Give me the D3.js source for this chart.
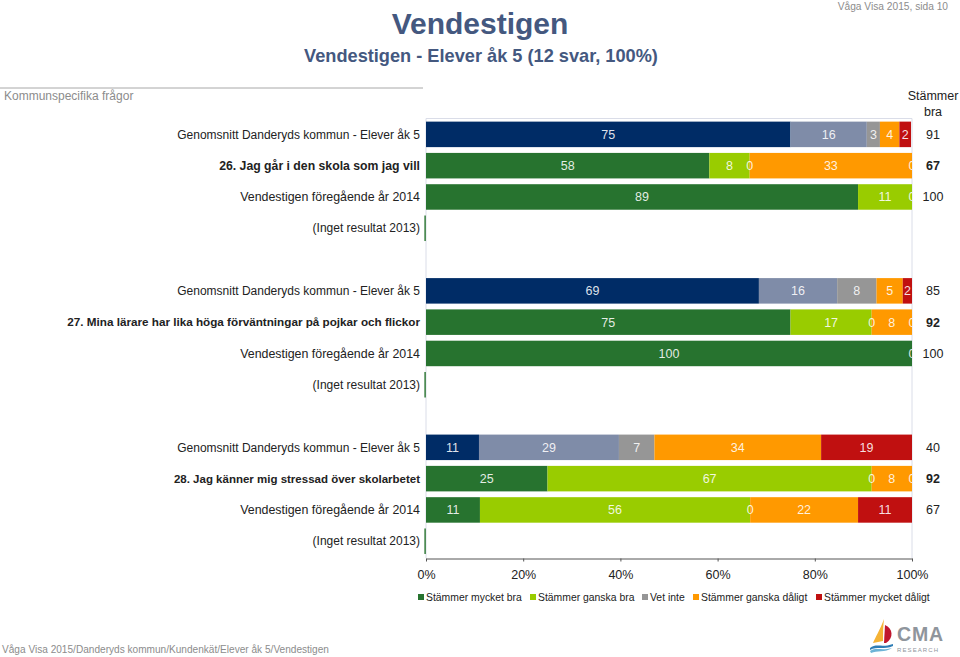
<!DOCTYPE html>
<html>
<head>
<meta charset="utf-8">
<script src="https://cdn.jsdelivr.net/npm/d3@7"></script>
<style>
  html, body { margin: 0; padding: 0; background: #fff; }
  text { font-family: "Liberation Sans", Arial, sans-serif; }
</style>
</head>
<body>
<div class="chart"></div>
<script>
var svgWidth = 960;
var svgHeight = 657;

// one row per line in the chart, blank rows are the gaps between the questions
var categories = [
  "Genomsnitt Danderyds kommun - Elever åk 5",
  "26. Jag går i den skola som jag vill",
  "Vendestigen föregående år 2014",
  "(Inget resultat 2013)",
  "",
  "Genomsnitt Danderyds kommun - Elever åk 5",
  "27. Mina lärare har lika höga förväntningar på pojkar och flickor",
  "Vendestigen föregående år 2014",
  "(Inget resultat 2013)",
  "",
  "Genomsnitt Danderyds kommun - Elever åk 5",
  "28. Jag känner mig stressad över skolarbetet",
  "Vendestigen föregående år 2014",
  "(Inget resultat 2013)"
];
var boldRows = [1, 6, 11];
var averageRows = [0, 5, 10];
var noResultRows = [3, 8, 13];
// the original labels are set a bit unevenly
var labelSizes = [12, 12.25, 12.4, 12, null, 12, 11.7, 12.4, 12, null, 12, 11.5, 12.4, 12];

var seriesNames = ["Stämmer mycket bra", "Stämmer ganska bra", "Vet inte", "Stämmer ganska dåligt", "Stämmer mycket dåligt"];
var seriesColors = ["#27732f", "#99cc00", "#969696", "#ff9900", "#c01010"];
var averageColors = ["#002c66", "#7f8ca8", "#969696", "#ff9900", "#c01010"];

// null = no segment and no label in that row
var veryGood = [75, 58.3, 88.9, null, null, 68.5, 75, 100, null, null, 10.9, 25, 11.1, null];
var fairlyGood = [15.7, 8.3, 11.1, null, null, 16.1, 16.7, 0, null, null, 28.8, 66.7, 55.6, null];
var dontKnow = [2.7, 0, 0, null, null, 8.1, 0, null, null, null, 7.3, 0, 0, null];
var fairlyBad = [4, 33.4, null, null, null, 5.4, 8.3, null, null, null, 34.3, 8.3, 22.2, null];
var veryBad = [2.4, 0, null, null, null, 1.9, 0, null, null, null, 18.7, 0, 11.1, null];
var allSeries = [veryGood, fairlyGood, dontKnow, fairlyBad, veryBad];

var agreeTotal = [91, 67, 100, null, null, 85, 92, 100, null, null, 40, 92, 67, null];

var xTicks = [0, 20, 40, 60, 80, 100];

var titleColor = "#44587f";
var greyText = "#8c8c8c";

var svg = d3.select(".chart").append("svg")
  .attr("width", svgWidth)
  .attr("height", svgHeight)
  .style("display", "block");

var xScale = d3.scaleLinear().domain([0, 100]).range([426, 912]);
var yScale = d3.scaleBand().domain(d3.range(categories.length)).range([118.8, 556.8]).paddingInner(0.185).paddingOuter(0.09);

// headers
svg.append("text").attr("x", 480).attr("y", 34).attr("text-anchor", "middle")
  .attr("font-size", 30).attr("font-weight", "bold").attr("fill", titleColor).text("Vendestigen");
svg.append("text").attr("x", 481).attr("y", 62).attr("text-anchor", "middle")
  .attr("font-size", 18.2).attr("font-weight", "bold").attr("fill", titleColor).text("Vendestigen - Elever åk 5 (12 svar, 100%)");
svg.append("text").attr("x", 948).attr("y", 10).attr("text-anchor", "end")
  .attr("font-size", 10.2).attr("fill", greyText).text("Våga Visa 2015, sida 10");

svg.append("line").attr("x1", 0).attr("x2", 423).attr("y1", 88).attr("y2", 88)
  .attr("stroke", "#a8a8a8").attr("stroke-width", 1);
svg.append("text").attr("x", 4).attr("y", 100).attr("font-size", 12).attr("fill", greyText).text("Kommunspecifika frågor");

svg.append("text").attr("x", 933).attr("y", 100).attr("text-anchor", "middle").attr("font-size", 12.5).attr("fill", "#222").text("Stämmer");
svg.append("text").attr("x", 933).attr("y", 116).attr("text-anchor", "middle").attr("font-size", 12.5).attr("fill", "#222").text("bra");

// plot frame, only the top and sides are pale
var frame = svg.append("g").attr("fill", "none").attr("stroke", "#dadde8");
frame.append("line").attr("x1", xScale(0)).attr("x2", xScale(100)).attr("y1", 118.5).attr("y2", 118.5);
frame.append("line").attr("x1", xScale(100)).attr("x2", xScale(100)).attr("y1", 118.5).attr("y2", 558);
frame.append("line").attr("x1", xScale(0)).attr("x2", xScale(0)).attr("y1", 118.5).attr("y2", 558);

// bars
svg.append("clipPath").attr("id", "plot-clip").append("rect")
  .attr("x", xScale(0)).attr("y", 110).attr("width", xScale(100) - xScale(0)).attr("height", 450);

var barGroup = svg.append("g");
var labelGroup = svg.append("g").attr("clip-path", "url(#plot-clip)");

categories.forEach(function(cat, row) {
  var cum = 0;
  allSeries.forEach(function(values, s) {
    var v = values[row];
    if (v === null) return;
    var colors = averageRows.indexOf(row) >= 0 ? averageColors : seriesColors;
    barGroup.append("rect")
      .attr("x", xScale(cum))
      .attr("y", yScale(row))
      .attr("width", xScale(cum + v) - xScale(cum))
      .attr("height", yScale.bandwidth())
      .attr("fill", colors[s]);
    labelGroup.append("text")
      .attr("x", xScale(cum + v / 2))
      .attr("y", yScale(row) + yScale.bandwidth() / 2)
      .attr("dy", "0.35em")
      .attr("text-anchor", "middle")
      .attr("font-size", 12.5)
      .attr("fill", "#fff")
      .attr("fill-opacity", 0.88)
      .text(d3.format(".0f")(v));
    cum += v;
  });
});

// rows without a result only show a thin green line
noResultRows.forEach(function(row) {
  barGroup.append("rect")
    .attr("x", xScale(0) - 1.6)
    .attr("y", yScale(row))
    .attr("width", 1.4)
    .attr("height", yScale.bandwidth())
    .attr("fill", seriesColors[0]);
});

// row labels and the right hand column
categories.forEach(function(cat, row) {
  if (cat === "") return;
  var bold = boldRows.indexOf(row) >= 0;
  svg.append("text")
    .attr("x", 420)
    .attr("y", yScale(row) + yScale.bandwidth() / 2)
    .attr("dy", "0.35em")
    .attr("text-anchor", "end")
    .attr("font-size", labelSizes[row])
    .attr("font-weight", bold ? "bold" : "normal")
    .attr("fill", "#222")
    .text(cat);
  if (agreeTotal[row] !== null) {
    svg.append("text")
      .attr("x", 933)
      .attr("y", yScale(row) + yScale.bandwidth() / 2)
      .attr("dy", "0.35em")
      .attr("text-anchor", "middle")
      .attr("font-size", 12.5)
      .attr("font-weight", bold ? "bold" : "normal")
      .attr("fill", "#222")
      .text(agreeTotal[row]);
  }
});

// x axis
var xAxis = svg.append("g")
  .attr("transform", "translate(0, 558.5)")
  .call(d3.axisBottom(xScale).tickValues(xTicks).tickSize(3).tickSizeOuter(0).tickFormat(function(d) { return d + "%"; }));
xAxis.select(".domain").attr("stroke", "#555");
xAxis.selectAll(".tick line").attr("stroke", "#555");
xAxis.selectAll(".tick text")
  .attr("font-family", "Liberation Sans")
  .attr("font-size", 12.5)
  .attr("fill", "#222")
  .attr("y", 12);

// legend
var legendX = [418, 530, 642, 693, 816];
seriesNames.forEach(function(name, i) {
  svg.append("rect").attr("x", legendX[i]).attr("y", 594).attr("width", 6).attr("height", 6).attr("fill", seriesColors[i]);
  svg.append("text").attr("x", legendX[i] + 8).attr("y", 601).attr("font-size", 10.4).attr("fill", "#222").text(name);
});

// footer
svg.append("text").attr("x", 2).attr("y", 653).attr("font-size", 10.1).attr("fill", greyText)
  .text("Våga Visa 2015/Danderyds kommun/Kundenkät/Elever åk 5/Vendestigen");

// logo
var logo = svg.append("g");
logo.append("path").attr("d", "M884 619 C880 630 875 638 873 643 L883 641 C883 634 883 627 884 619 Z").attr("fill", "#f5b335");
logo.append("path").attr("d", "M885 625 C893 628 894 638 886 643 L884 643 Z").attr("fill", "#c0172d");
logo.append("path").attr("d", "M870 648 C876 643 882 648 893 644 L893 646 C884 650 877 646 870 650 Z").attr("fill", "#2f7db5");
logo.append("path").attr("d", "M870 651 C876 647 882 651 892 648 C885 653 877 650 871 653 Z").attr("fill", "#6db3d6");
logo.append("text").attr("x", 897).attr("y", 641).attr("font-size", 19.5).attr("letter-spacing", 0.8).attr("font-weight", "bold").attr("fill", "#8f959c").text("CMA");
logo.append("text").attr("x", 897).attr("y", 651.5).attr("font-size", 6).attr("letter-spacing", 1.1).attr("fill", "#8f959c").text("RESEARCH");
</script>
</body>
</html>
